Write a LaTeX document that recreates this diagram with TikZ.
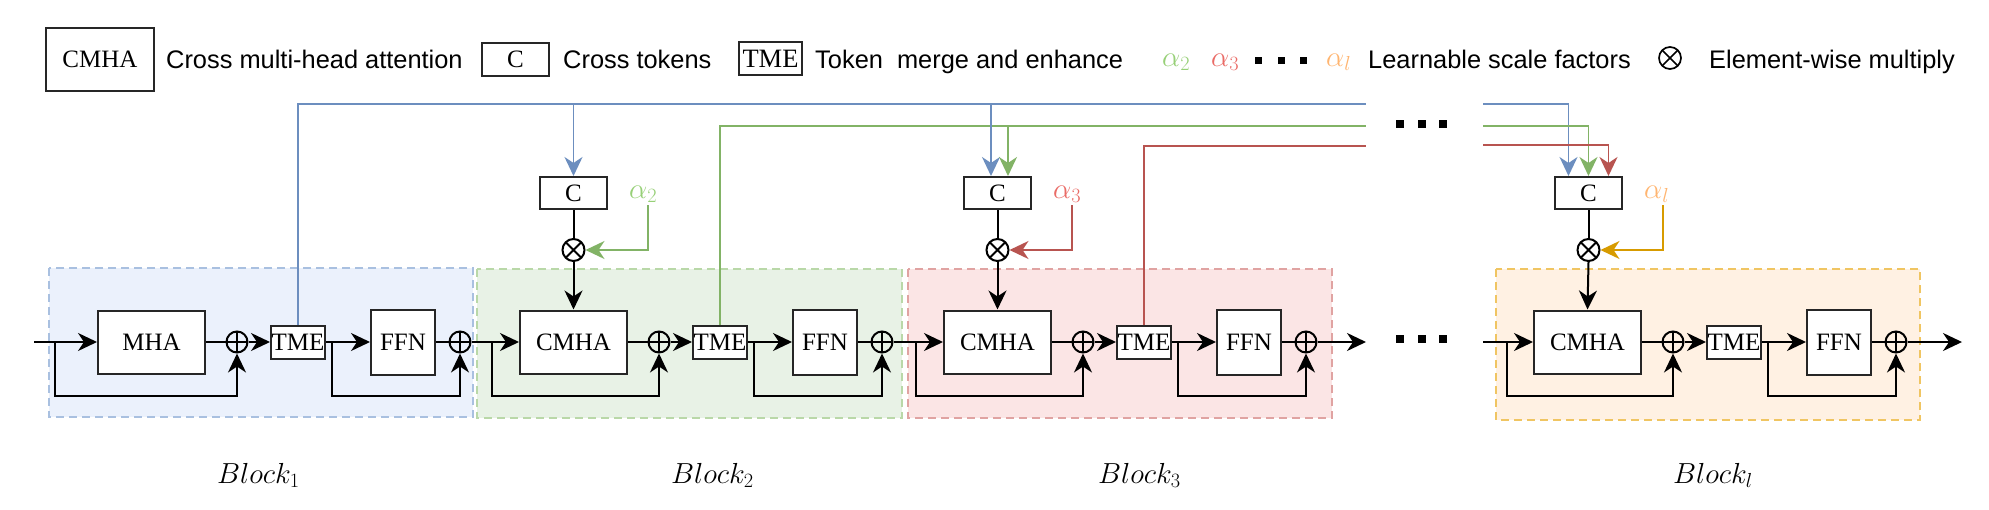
\RequirePackage{fix-cm}
\documentclass[tikz,border=0pt]{standalone}
\usepackage{fontspec}
\newfontfamily\lsans{Liberation Sans}
\newfontfamily\lserif{Liberation Serif}
\usetikzlibrary{arrows.meta}
\definecolor{cblue}{HTML}{6C8EBF}
\definecolor{cgreen}{HTML}{82B366}
\definecolor{cred}{HTML}{B85450}
\definecolor{corange}{HTML}{D79B00}
\definecolor{agreen}{HTML}{97D077}
\definecolor{ared}{HTML}{EA6B66}
\definecolor{aorange}{HTML}{FFB570}
\definecolor{fblue}{HTML}{EBF1FC}
\definecolor{fgreen}{HTML}{E8F2E6}
\definecolor{fred}{HTML}{FBE5E5}
\definecolor{forange}{HTML}{FFF1E3}
\definecolor{dblue}{HTML}{A9C0E0}
\definecolor{dgreen}{HTML}{B9D8A8}
\definecolor{dred}{HTML}{E0A3A2}
\definecolor{dorange}{HTML}{F0C562}
\newcommand{\drawblock}[4]{%
  \node[box,minimum width=107pt,minimum height=63pt] (m#1) at (#2+53.5,342) {#3};
  \node[oplusnode] (pa#1) at (#2+139,342) {};
  \node[box,minimum width=54pt,minimum height=33pt] (t#1) at (#2+200,342) {TME};
  \node[box,minimum width=64pt,minimum height=65pt] (f#1) at (#2+305,342) {FFN};
  \node[oplusnode] (pb#1) at (#2+362,342) {};
  \coordinate (ba#1) at (#2+#4,342);
  \coordinate (la#1) at (#2+#4,396);
  \coordinate (bb#1) at (#2+234,342);
  \coordinate (lb#1) at (#2+234,396);
  \draw[ln] (m#1.east) -- (pa#1.west);
  \draw[arr] (pa#1.east) -- (t#1.west);
  \draw[arr] (t#1.east) -- (f#1.west);
  \draw[ln] (f#1.east) -- (pb#1.west);
  \draw[arr] (ba#1) -- (la#1) -| (pa#1.south);
  \draw[arr] (bb#1) -- (lb#1) -| (pb#1.south);
}
\newcommand{\crossparts}[5]{%
  \node[box,minimum width=67pt,minimum height=32pt] (c#1) at (#2+53.5,193) {C};
  \node[otimesnode] (x#1) at (#2+53.5,250) {};
  \draw[ln] (c#1.south) -- (x#1.north);
  \draw[arr] (x#1.south) -- (m#1.north);
  \node[alph,text=#4] (a#1) at (#2+109,198) {$\alpha_{#3}$};
  \coordinate (at#1) at (#2+128,205);
  \draw[carr,draw=#5] (at#1) |- (x#1.east);
}
\begin{document}
\begin{tikzpicture}[x=1pt,y=-1pt,
  box/.style={draw=black!85,line width=2pt,fill=white,inner sep=0pt,font=\lserif\fontsize{25}{30}\selectfont},
  lgbox/.style={draw=black!85,line width=1.6pt,fill=white,inner sep=0pt,font=\lserif\fontsize{25}{30}\selectfont},
  ln/.style={line width=2pt,draw=black},
  arr/.style={ln,-{Stealth[length=19pt,width=18pt,inset=6pt]}},
  cln/.style={line width=1.7pt},
  carr/.style={line width=1.7pt,-{Stealth[length=19pt,width=18pt,inset=6pt]}},
  oplusnode/.style={circle,draw=black,line width=2pt,minimum size=21pt,inner sep=0pt,
    path picture={\draw[line width=2pt] (path picture bounding box.north)--(path picture bounding box.south) (path picture bounding box.west)--(path picture bounding box.east);}},
  otimesnode/.style={circle,draw=black,line width=2pt,minimum size=22pt,inner sep=0pt,
    path picture={\draw[line width=2pt] (path picture bounding box.north west)--(path picture bounding box.south east) (path picture bounding box.north east)--(path picture bounding box.south west);}},
  desc/.style={anchor=base west,inner sep=0pt,font=\lsans\fontsize{25.4}{30}\selectfont},
  alph/.style={anchor=base west,inner sep=0pt,font=\fontsize{29}{34}\selectfont},
  bklabel/.style={anchor=base west,inner sep=0pt,font=\fontsize{29}{34}\selectfont},
  sqdot/.style={fill=black,minimum size=8pt,inner sep=0pt},
  bgbox/.style={dash pattern=on 8pt off 5pt,line width=1.5pt}
]
\fill[white] (0,0) rectangle (1989,509);
\useasboundingbox (0,0) rectangle (1989,509);

% legend
\node[lgbox,minimum width=108pt,minimum height=63pt] (lgcmha) at (100,59.5) {CMHA};
\node[desc] (lgcmhat) at (166,68.5) {Cross multi-head attention};
\node[lgbox,minimum width=67pt,minimum height=33pt] (lgc) at (515.5,59.5) {C};
\node[desc] (lgct) at (563,68.5) {Cross tokens};
\node[lgbox,minimum width=63pt,minimum height=33pt,font=\lserif\fontsize{26.5}{30}\selectfont] (lgtme) at (770.5,58.5) {TME};
\node[desc] (lgtmet) at (815,68.5) {Token\ \ merge and enhance};
\node[alph,text=agreen] (lga2) at (1162,66) {$\alpha_2$};
\node[alph,text=ared] (lga3) at (1211,66) {$\alpha_3$};
\node[sqdot,minimum size=7pt] (lgd1) at (1258,60) {};
\node[sqdot,minimum size=7pt] (lgd2) at (1281,60) {};
\node[sqdot,minimum size=7pt] (lgd3) at (1303,60) {};
\node[alph,text=aorange] (lgal) at (1326,66) {$\alpha_l$};
\node[desc] (lgalt) at (1368,68.5) {Learnable scale factors};
\node[otimesnode,line width=1.7pt,minimum size=22pt,
  path picture={\draw[line width=1.7pt] (path picture bounding box.north west)--(path picture bounding box.south east) (path picture bounding box.north east)--(path picture bounding box.south west);}] (lgx) at (1670,58) {};
\node[desc] (lgxt) at (1709,68.5) {Element-wise multiply};

% block backgrounds
\path[bgbox,fill=fblue,draw=dblue] (49,268) rectangle (473,417);
\path[bgbox,fill=fgreen,draw=dgreen] (477,269) rectangle (902,418);
\path[bgbox,fill=fred,draw=dred] (908,269) rectangle (1332,418);
\path[bgbox,fill=forange,draw=dorange] (1496,269) rectangle (1920,420);

% blocks
\drawblock{1}{98}{MHA}{-43}
\drawblock{2}{520}{CMHA}{-28}
\drawblock{3}{944}{CMHA}{-28}
\drawblock{l}{1534}{CMHA}{-27}

\coordinate (in1) at (34,342);
\coordinate (out3) at (1366,342);
\coordinate (inl) at (1483,342);
\coordinate (outl) at (1962,342);
\draw[arr] (in1) -- (m1.west);
\draw[arr] (pb1.east) -- (m2.west);
\draw[arr] (pb2.east) -- (m3.west);
\draw[arr] (pb3.east) -- (out3);
\draw[arr] (inl) -- (ml.west);
\draw[arr] (pbl.east) -- (outl);

% cross token parts
\crossparts{2}{520}{2}{agreen}{cgreen}
\crossparts{3}{944}{3}{ared}{cred}
\crossparts{l}{1535}{l}{aorange}{corange}

% long colored lines
\coordinate (be) at (1366,104);
\coordinate (ge) at (1366,126);
\coordinate (re) at (1366,146);
\coordinate (bs) at (1483,104);
\coordinate (gs) at (1483,126);
\coordinate (rs) at (1483,145);
\coordinate (c3b) at ([xshift=-6.5pt]c3.north);
\coordinate (c3g) at ([xshift=10.5pt]c3.north);
\coordinate (clb) at ([xshift=-20pt]cl.north);
\coordinate (clr) at ([xshift=20pt]cl.north);
\draw[cln,draw=cblue] (t1.north) |- (be);
\draw[cln,draw=cgreen] (t2.north) |- (ge);
\draw[cln,draw=cred] (t3.north) |- (re);
\draw[carr,draw=cblue] (c2.north |- be) -- (c2.north);
\draw[carr,draw=cblue] (c3b |- be) -- (c3b);
\draw[carr,draw=cgreen] (c3g |- ge) -- (c3g);
\draw[carr,draw=cblue] (bs) -| (clb);
\draw[carr,draw=cgreen] (gs) -| (cl.north);
\draw[carr,draw=cred] (rs) -| (clr);

% dots
\node[sqdot] (td1) at (1400,124) {};
\node[sqdot] (td2) at (1422,124) {};
\node[sqdot] (td3) at (1443,124) {};
\node[sqdot] (bd1) at (1400,339) {};
\node[sqdot] (bd2) at (1422,339) {};
\node[sqdot] (bd3) at (1443,339) {};

% block labels
\node[bklabel] (lb1t) at (217,483) {$Block_1$};
\node[bklabel] (lb2t) at (671,483) {$Block_2$};
\node[bklabel] (lb3t) at (1098,483) {$Block_3$};
\node[bklabel] (lblt) at (1673,483) {$Block_l$};
\end{tikzpicture}
\end{document}
